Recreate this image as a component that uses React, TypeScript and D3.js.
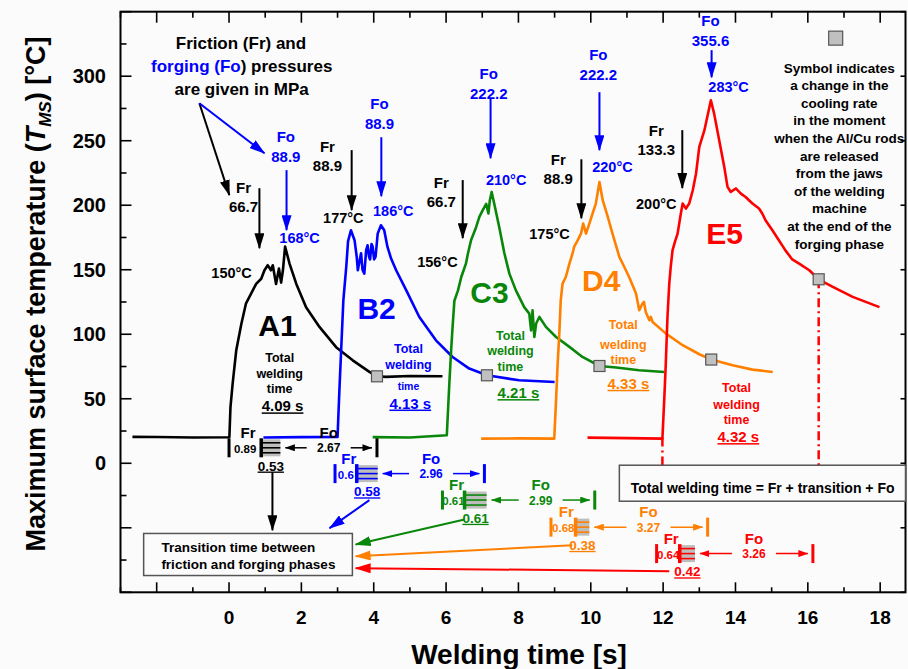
import React from 'react';
import * as d3 from 'd3';

// ---------------- DATA ----------------
const seriesNames = ['A1', 'B2', 'C3', 'D4', 'E5'];
const seriesColors = ['#000000', '#0000ff', '#0a870a', '#ff8000', '#ff0000'];
const weldStart = [0, 3.0, 6.03, 9.0, 11.98];
const totalTime = [4.09, 4.13, 4.21, 4.33, 4.32];
const frTime = [0.89, 0.6, 0.61, 0.68, 0.64];
const trTime = [0.53, 0.58, 0.61, 0.38, 0.42];
const foTime = [2.67, 2.96, 2.99, 3.27, 3.26];
const phaseStart = [0, 2.93, 5.9, 8.9, 11.82];
const frPressure = ['66.7', '88.9', '66.7', '88.9', '133.3'];
const foPressure = ['88.9', '88.9', '222.2', '222.2', '355.6'];
const tempAtFr = [150, 177, 156, 175, 200];
const tempMax = [168, 186, 210, 220, 283];

const xTickLabels = [0, 2, 4, 6, 8, 10, 12, 14, 16, 18];
const yTickLabels = [0, 50, 100, 150, 200, 250, 300];

const curveA1: [number, number][] = [
  [-2.67, 20.5], [-2.0, 20.4], [-1.0, 20.0], [-0.01, 20.2], [0.01, 20.4], [0.04, 43.6], [0.1, 61.8], [0.2, 87.6],
  [0.34, 108], [0.47, 124], [0.61, 131.5], [0.75, 139], [0.89, 143], [0.98, 149.6], [1.07, 153.5],
  [1.16, 149.6], [1.21, 153.5], [1.3, 139], [1.38, 151], [1.44, 140], [1.49, 149.6], [1.55, 168],
  [1.67, 155], [1.86, 139], [2.13, 121], [2.5, 105.7], [2.96, 90], [3.42, 79.8], [3.88, 70.8],
  [4.09, 67.4], [4.34, 67], [4.99, 67.6], [5.9, 67.4],
];
const curveB2: [number, number][] = [
  [0.95, 20], [2.0, 20.3], [2.98, 20.5], [3.0, 20.4], [3.05, 56], [3.1, 88], [3.16, 126], [3.24, 152],
  [3.29, 172], [3.37, 180.6], [3.47, 172.9], [3.53, 160], [3.56, 149.6], [3.65, 162.8], [3.69, 150],
  [3.74, 147], [3.79, 165], [3.83, 169], [3.87, 160], [3.9, 158], [3.94, 170], [3.97, 168], [4.01, 158],
  [4.05, 160], [4.11, 178], [4.2, 184.5], [4.29, 180.6], [4.38, 167.7], [4.48, 158.7], [4.62, 149.6],
  [4.9, 134], [5.26, 113.4], [5.72, 95.3], [6.18, 82.4], [6.64, 73.4], [7.13, 68.2], [8.02, 64.3], [9.0, 63],
];
const curveC3: [number, number][] = [
  [3.97, 20.3], [5.0, 20], [6.02, 21.7], [6.09, 61.8], [6.14, 87.6], [6.18, 105.7], [6.23, 126],
  [6.33, 134], [6.42, 144.4], [6.55, 154.8], [6.6, 162], [6.69, 172.9], [6.83, 183], [6.92, 191],
  [7.01, 196], [7.11, 201], [7.17, 193.6], [7.21, 203.9], [7.26, 210.3], [7.33, 201.3], [7.47, 183],
  [7.61, 163], [7.75, 147], [7.93, 134], [8.16, 121], [8.3, 116], [8.35, 103], [8.39, 118.6],
  [8.44, 97.9], [8.49, 108.3], [8.58, 113.4], [8.76, 105.7], [9.04, 97.9], [9.41, 90.2], [9.77, 82.4],
  [10.24, 75.4], [10.7, 74.2], [11.34, 72.1], [12.03, 70.8],
];
const curveD4: [number, number][] = [
  [6.97, 19.1], [8.0, 19.3], [8.99, 19.1], [9.04, 48.8], [9.08, 74.6], [9.13, 100.5], [9.17, 126.4],
  [9.22, 139.3], [9.31, 144.4], [9.41, 154.8], [9.5, 163], [9.54, 167.7], [9.64, 172.9], [9.73, 178],
  [9.79, 185.8], [9.87, 178], [9.96, 185.8], [10.05, 193.6], [10.14, 201.3], [10.24, 218], [10.33, 203.9],
  [10.47, 191], [10.6, 178], [10.79, 160], [10.88, 154.8], [11.06, 144.4], [11.25, 131.5], [11.34, 118.6],
  [11.43, 123.8], [11.47, 125], [11.52, 117.3], [11.62, 110.9], [11.66, 113.4], [11.71, 109.5],
  [12.08, 100.5], [12.54, 91.5], [13.0, 84.5], [13.33, 80.4], [13.92, 76], [14.47, 72.6], [15.03, 70.8],
];
const curveE5: [number, number][] = [
  [9.91, 19.9], [11.0, 19.5], [11.98, 19.1], [12.03, 48.8], [12.07, 74.6], [12.12, 113.4], [12.17, 139.3],
  [12.21, 152.2], [12.26, 165], [12.33, 172], [12.4, 178], [12.49, 193.6], [12.54, 201.3], [12.63, 197.4],
  [12.72, 201.3], [12.82, 211.6], [12.91, 224.6], [13.0, 245.2], [13.14, 258], [13.28, 276.2],
  [13.32, 281.4], [13.41, 271], [13.55, 250.4], [13.69, 229.7], [13.78, 214.2], [13.87, 210.3],
  [14.01, 213], [14.15, 209], [14.28, 206.4], [14.47, 201.3], [14.65, 197.4], [14.74, 193.6],
  [14.83, 188.4], [15.02, 180.6], [15.2, 172.9], [15.38, 165], [15.57, 158], [15.76, 154.8],
  [16.04, 149.6], [16.3, 142.6], [16.69, 136.7], [17.24, 129], [17.98, 121],
];
const curves = [curveA1, curveB2, curveC3, curveD4, curveE5];

const legendLines = [
  'Symbol indicates', 'a change in the', 'cooling rate', 'in the moment', 'when the Al/Cu rods',
  'are released', 'from the jaws', 'of the welding', 'machine', 'at the end of the', 'forging phase',
];

// ---------------- LAYOUT (annotation anchors in data units) ----------------
const frLabelPos = [[0.4, 213.2], [2.72, 245], [5.87, 217.1], [9.1, 234.9], [11.81, 257.4]];
const frArrow = [[0.84, 213.2, 166.7], [3.39, 242.7, 196.2], [6.46, 219.5, 174.5], [9.74, 235.6, 189.9], [12.53, 258.2, 213.3]];
const tempFrPos = [[0.07, 147.3], [3.16, 190], [5.76, 155.9], [8.86, 177.6], [11.81, 200.8]];
const foLabelPos = [[1.57, 252.7], [4.16, 278.3], [7.18, 301.6], [10.21, 316.3], [13.31, 342.9]];
const foArrow = [[1.59, 227.2, 180.7], [4.21, 252.7, 207], [7.23, 282.9, 236.4], [10.24, 287.6, 242.7], [13.34, 320.2, 299.2]];
const tempMaxPos = [[1.95, 174.4], [4.54, 195.4], [7.66, 219.4], [10.6, 229.7], [13.81, 291.5]];
const bigLabelPos = [[1.34, 107], [4.08, 120.2], [7.2, 132.6], [10.29, 141.9], [13.7, 178.4]];
const twLabelPos = [
  [1.4, 82.2, 69.8, 58.2], [4.96, 89.2, 76.8, 59.7], [7.78, 99.3, 87.7, 74.7], [10.9, 107.3, 91.8, 80.0], [14.03, 58.4, 45.8, 34.2],
];
const twValuePos = [[1.48, 44.3], [5.01, 46.5], [8.0, 54.6], [11.04, 61.8], [14.08, 20.5]];
const phaseRowY = [12, -8, -28.5, -49.5, -70];
const transArrowStart = [[1.2, -6.9], [3.88, -28.6], [6.51, -43.5], [9.49, -63.6], [12.17, -83.6]];
const transArrowEnd = [[1.2, -51.9], [2.78, -50.3], [3.5, -62.9], [3.5, -72], [3.5, -81.3]];

const W = 908;
const H = 669;
const FONT = '"Liberation Sans", Arial, Helvetica, sans-serif';

const x = d3.scaleLinear().domain([-3, 18.7]).range([120.5, 905.5]);
const y = d3.scaleLinear().domain([-100, 350]).range([592.3, 11.7]);

function interp(c: [number, number][], t: number) {
  for (let i = 1; i < c.length; i++) {
    if (c[i][0] >= t) {
      const [x0, y0] = c[i - 1];
      const [x1, y1] = c[i];
      return y0 + ((t - x0) / (x1 - x0)) * (y1 - y0);
    }
  }
  return c[c.length - 1][1];
}

const Txt = (p: any) => {
  const { x: tx, y: ty, children, size = 14, color = '#000', anchor = 'middle', ul = false, style, ...rest } = p;
  return (
    <text x={tx} y={ty} dy="0.35em" fill={color} fontSize={size} fontWeight="bold" fontFamily={FONT}
      textAnchor={anchor} textDecoration={ul ? 'underline' : undefined} style={style} {...rest}>
      {children}
    </text>
  );
};

const colorKey = (c: string) => c.replace('#', 'c');

export default function App() {
  const line = d3.line<[number, number]>().x((d) => x(d[0])).y((d) => y(d[1]));
  const allColors = Array.from(new Set(seriesColors));

  const xTicks = d3.range(-3, 19, 1);
  const yTicks = d3.range(-100, 351, 25);

  return (
    <svg width={W} height={H} style={{ position: 'absolute', left: 0, top: 0, background: '#fbfbfb' }}>
      <defs>
        {allColors.map((c) => (
          <React.Fragment key={c}>
            <marker id={`big-${colorKey(c)}`} viewBox="0 0 16 10" refX="15" refY="5" markerWidth="16" markerHeight="10"
              markerUnits="userSpaceOnUse" orient="auto-start-reverse">
              <path d="M0,0 L16,5 L0,10 Z" fill={c} />
            </marker>
            <marker id={`sm-${colorKey(c)}`} viewBox="0 0 10 7" refX="9.5" refY="3.5" markerWidth="10" markerHeight="7"
              markerUnits="userSpaceOnUse" orient="auto-start-reverse">
              <path d="M0,0 L10,3.5 L0,7 Z" fill={c} />
            </marker>
          </React.Fragment>
        ))}
      </defs>

      {/* frame */}
      <rect x={x(-3)} y={y(350)} width={x(18.7) - x(-3)} height={y(-100) - y(350)} fill="none" stroke="#000" strokeWidth={2} />

      {/* ticks */}
      {xTicks.map((t) => {
        const major = t % 2 === 0;
        const len = major ? 10 : 5;
        return (
          <g key={`xt${t}`} stroke="#000" strokeWidth={1.6}>
            <line x1={x(t)} x2={x(t)} y1={y(-100)} y2={y(-100) - len} />
            <line x1={x(t)} x2={x(t)} y1={y(350)} y2={y(350) + len + 1} />
          </g>
        );
      })}
      {yTicks.map((v) => {
        const major = v % 50 === 0;
        const len = major ? 11 : 6;
        return (
          <g key={`yt${v}`} stroke="#000" strokeWidth={1.6}>
            <line x1={x(-3)} x2={x(-3) + len} y1={y(v)} y2={y(v)} />
            {major && <line x1={x(18.7)} x2={x(18.7) - 5} y1={y(v)} y2={y(v)} />}
          </g>
        );
      })}
      {xTickLabels.map((t) => (
        <Txt key={`xl${t}`} x={x(t)} y={617} size={19}>{t}</Txt>
      ))}
      {yTickLabels.map((v) => (
        <Txt key={`yl${v}`} x={106} y={y(v)} size={20} anchor="end">{v}</Txt>
      ))}

      {/* axis titles */}
      <text x={519} y={664} textAnchor="middle" fontSize={28} fontWeight="bold" fontFamily={FONT}>Welding time [s]</text>
      <text transform="translate(45,294) rotate(-90)" textAnchor="middle" fontSize={27} fontWeight="bold" fontFamily={FONT}>
        Maximum surface temperature (<tspan fontStyle="italic">T</tspan>
        <tspan fontStyle="italic" fontSize={17} dy={6}>MS</tspan>
        <tspan dy={-6}>) [°C]</tspan>
      </text>

      {/* curves */}
      {curves.map((c, i) => (
        <path key={`c${i}`} d={line(c) || ''} fill="none" stroke={seriesColors[i]} strokeWidth={2.6} strokeLinejoin="round" />
      ))}

      {/* red dash-dot lines and total-time double arrow for E5 */}
      <line x1={x(weldStart[4])} x2={x(weldStart[4])} y1={y(20)} y2={y(-1.5)} stroke="#ff0000" strokeWidth={2.5} strokeDasharray="9,4,2,4" />
      <line x1={x(weldStart[4] + totalTime[4])} x2={x(weldStart[4] + totalTime[4])}
        y1={y(interp(curveE5, weldStart[4] + totalTime[4]))} y2={y(-1.5)} stroke="#ff0000" strokeWidth={2.5} strokeDasharray="9,4,2,4" />
      <line x1={x(weldStart[4]) + 4} x2={x(weldStart[4] + totalTime[4]) - 4} y1={y(-7.4)} y2={y(-7.4)}
        stroke="#ff0000" strokeWidth={3} markerStart="url(#big-cff0000)" markerEnd="url(#big-cff0000)" />

      {/* markers where cooling rate changes */}
      {curves.map((c, i) => {
        const t = weldStart[i] + totalTime[i];
        return (
          <rect key={`m${i}`} x={x(t) - 5.5} y={y(interp(c, t)) - 5.5} width={11} height={11} fill="#c0c0c0" stroke="#555" strokeWidth={1.2} />
        );
      })}

      {/* pressure / temperature annotations */}
      {seriesNames.map((n, i) => (
        <g key={`ann${i}`}>
          <Txt x={x(frLabelPos[i][0])} y={y(frLabelPos[i][1])} size={15}>Fr</Txt>
          <Txt x={x(frLabelPos[i][0])} y={y(frLabelPos[i][1]) + 19} size={15}>{frPressure[i]}</Txt>
          <line x1={x(frArrow[i][0])} x2={x(frArrow[i][0])} y1={y(frArrow[i][1])} y2={y(frArrow[i][2])}
            stroke="#000" strokeWidth={2} markerEnd="url(#big-c000000)" />
          <Txt x={x(tempFrPos[i][0])} y={y(tempFrPos[i][1])} size={14.5}>{`${tempAtFr[i]}°C`}</Txt>
          <Txt x={x(foLabelPos[i][0])} y={y(foLabelPos[i][1])} size={15} color="#0000ff">Fo</Txt>
          <Txt x={x(foLabelPos[i][0])} y={y(foLabelPos[i][1]) + 19.5} size={15} color="#0000ff">{foPressure[i]}</Txt>
          <line x1={x(foArrow[i][0])} x2={x(foArrow[i][0])} y1={y(foArrow[i][1])} y2={y(foArrow[i][2])}
            stroke="#0000ff" strokeWidth={2} markerEnd="url(#big-c0000ff)" />
          <Txt x={x(tempMaxPos[i][0])} y={y(tempMaxPos[i][1])} size={14.5} color="#0000ff">{`${tempMax[i]}°C`}</Txt>
          <Txt x={x(bigLabelPos[i][0])} y={y(bigLabelPos[i][1])} size={30} color={seriesColors[i]}>{n}</Txt>
          <Txt x={x(twLabelPos[i][0])} y={y(twLabelPos[i][1])} size={12.5} color={seriesColors[i]}>Total</Txt>
          <Txt x={x(twLabelPos[i][0])} y={y(twLabelPos[i][2])} size={12.5} color={seriesColors[i]}>welding</Txt>
          <Txt x={x(twLabelPos[i][0])} y={y(twLabelPos[i][3])} size={i === 1 ? 10.5 : 12.5} color={seriesColors[i]}>time</Txt>
          <Txt x={x(twValuePos[i][0])} y={y(twValuePos[i][1])} size={15} color={seriesColors[i]} ul>{`${totalTime[i].toFixed(2)} s`}</Txt>
        </g>
      ))}

      {/* header note */}
      <Txt x={x(0.33)} y={y(325.8)} size={17}>Friction (Fr) and</Txt>
      <Txt x={x(0.35)} y={y(307.8)} size={17}>
        <tspan fill="#0000ff">forging (Fo</tspan>) pressures
      </Txt>
      <Txt x={x(0.35)} y={y(289.8)} size={17}>are given in MPa</Txt>
      <line x1={x(-0.82)} y1={y(279)} x2={x(0.01)} y2={y(207.8)} stroke="#000" strokeWidth={2} markerEnd="url(#big-c000000)" />
      <line x1={x(-0.82)} y1={y(279)} x2={x(0.98)} y2={y(240.3)} stroke="#0000ff" strokeWidth={2} markerEnd="url(#big-c0000ff)" />

      {/* legend note top-right */}
      <rect x={x(16.77) - 7} y={y(329.5) - 7} width={14} height={14} fill="#c0c0c0" stroke="#555" strokeWidth={1.2} />
      {legendLines.map((l, k) => (
        <Txt key={`lg${k}`} x={x(16.87)} y={y(306.4) + k * 17.6} size={13.5}>{l}</Txt>
      ))}

      {/* phase diagrams */}
      {seriesNames.map((n, i) => {
        const c = seriesColors[i];
        const cy = y(phaseRowY[i]);
        const s = phaseStart[i];
        const xs = x(s);
        const xf = x(s + frTime[i]);
        const xt = x(s + frTime[i] + trTime[i]);
        const xe = x(s + totalTime[i]);
        const h = 9.5;
        const foMid = (xt + xe) / 2;
        return (
          <g key={`ph${i}`}>
            <line x1={xs} x2={xs} y1={cy - h} y2={cy + h} stroke={c} strokeWidth={3} />
            <rect x={xf} y={cy - h + 1} width={xt - xf} height={2 * h - 2} fill="#bdbdbd" />
            {[-5, 0, 5].map((o) => (
              <line key={o} x1={xf} x2={xt} y1={cy + o} y2={cy + o} stroke={c} strokeWidth={1.6} />
            ))}
            <line x1={xf} x2={xf} y1={cy - h} y2={cy + h} stroke={c} strokeWidth={3.5} />
            <line x1={xe} x2={xe} y1={cy - h} y2={cy + h} stroke={c} strokeWidth={3} />
            <Txt x={(xs + xf) / 2 + 3} y={cy - 15} size={15} color={c}>Fr</Txt>
            <Txt x={(xs + xf) / 2} y={cy + 1} size={11.5} color={c}>{frTime[i].toFixed(2).replace(/0$/, '')}</Txt>
            <Txt x={(xf + xt) / 2} y={cy + 18} size={13.5} color={c} ul>{trTime[i].toFixed(2)}</Txt>
            <Txt x={foMid} y={cy - 15} size={15} color={c}>Fo</Txt>
            <Txt x={foMid} y={cy + 0.5} size={12} color={c}>{foTime[i].toFixed(2)}</Txt>
            <line x1={foMid - 22} x2={xt + 5} y1={cy} y2={cy} stroke={c} strokeWidth={1.5} markerEnd={`url(#sm-${colorKey(c)})`} />
            <line x1={foMid + 22} x2={xe - 5} y1={cy} y2={cy} stroke={c} strokeWidth={1.5} markerEnd={`url(#sm-${colorKey(c)})`} />
            <line x1={x(transArrowStart[i][0])} y1={y(transArrowStart[i][1])} x2={x(transArrowEnd[i][0])} y2={y(transArrowEnd[i][1])}
              stroke={c} strokeWidth={2} markerEnd={`url(#big-${colorKey(c)})`} />
          </g>
        );
      })}

      {/* boxes */}
      <rect x={x(10.79)} y={y(-1.5)} width={x(18.7) - x(10.79)} height={y(-29.4) - y(-1.5)} fill="#fbfbfb" stroke="#555" strokeWidth={1.5} />
      <Txt x={x(14.75)} y={y(-19.5)} size={14}>Total welding time = Fr + transition + Fo</Txt>
      <rect x={x(-2.36)} y={y(-54.4)} width={x(3.41) - x(-2.36)} height={y(-87) - y(-54.4)} fill="#fbfbfb" stroke="#555" strokeWidth={1.5} />
      <Txt x={x(-1.87)} y={y(-65)} size={13.5} anchor="start">Transition time between</Txt>
      <Txt x={x(-1.87)} y={y(-78.4)} size={13.5} anchor="start">friction and forging phases</Txt>
    </svg>
  );
}
